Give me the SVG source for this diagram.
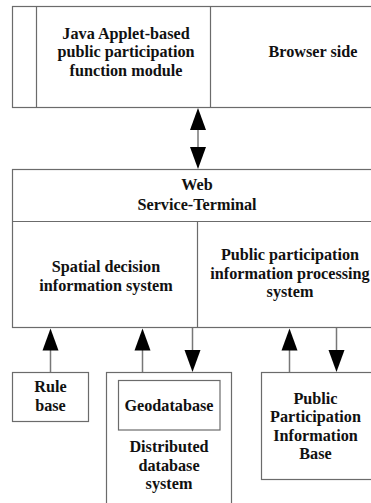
<svg xmlns="http://www.w3.org/2000/svg" width="371" height="503" viewBox="0 0 371 503">
  <defs>
    <style>
      .box { fill: #ffffff; stroke: #6b6b6b; stroke-width: 1.2; }
      .rule { stroke: #6b6b6b; stroke-width: 1.2; fill: none; }
      .link { stroke: #777777; stroke-width: 1.5; fill: none; }
      .head { fill: #000000; stroke: none; }
      text { font-family: "Liberation Serif", "Times New Roman", serif; font-weight: bold; font-size: 16.2px; fill: #111111; text-anchor: middle; }
    </style>
    <!-- arrowhead pointing up, tip at origin -->
    <polygon id="headUp" class="head" points="0,0 8,22 -8,22"/>
    <!-- arrowhead pointing down, tip at origin -->
    <polygon id="headDown" class="head" points="0,0 8,-22 -8,-22"/>
  </defs>
  <rect width="371" height="503" fill="#ffffff"/>

  <!-- Browser side -->
  <g id="browser">
    <rect class="box" x="12.5" y="6.5" width="380" height="101"/>
    <line class="rule" x1="36.5" y1="6.5" x2="36.5" y2="107.5"/>
    <line class="rule" x1="210.5" y1="6.5" x2="210.5" y2="107.5"/>
    <text x="126" y="38.5">Java Applet-based</text>
    <text x="126" y="57">public participation</text>
    <text x="126" y="75.5">function module</text>
    <text x="313" y="57">Browser side</text>
  </g>

  <!-- Web service terminal -->
  <g id="web-terminal">
    <rect class="box" x="12.5" y="169.5" width="380" height="158"/>
    <line class="rule" x1="12.5" y1="221.5" x2="392.5" y2="221.5"/>
    <line class="rule" x1="197.5" y1="221.5" x2="197.5" y2="327.5"/>
    <text x="197" y="190">Web</text>
    <text x="197" y="210">Service-Terminal</text>
  </g>
  <g id="spatial-decision">
    <text x="106" y="272">Spatial decision</text>
    <text x="106" y="290.5">information system</text>
  </g>
  <g id="public-processing">
    <text x="290" y="260">Public participation</text>
    <text x="290" y="278.5">information processing</text>
    <text x="290" y="297">system</text>
  </g>

  <!-- Data sources -->
  <g id="rule-base">
    <rect class="box" x="12.5" y="372.5" width="76" height="49"/>
    <text x="50.5" y="392">Rule</text>
    <text x="50.5" y="410.5">base</text>
  </g>
  <g id="distributed-db">
    <rect class="box" x="106.5" y="372.5" width="125" height="200"/>
    <text x="169" y="452">Distributed</text>
    <text x="169" y="470.5">database</text>
    <text x="169" y="489">system</text>
  </g>
  <g id="geodatabase">
    <rect class="box" x="118.5" y="380.5" width="101.5" height="49.5"/>
    <text x="169" y="411">Geodatabase</text>
  </g>
  <g id="ppib">
    <rect class="box" x="261.5" y="372.5" width="120" height="107"/>
    <text x="315.5" y="403.5">Public</text>
    <text x="315.5" y="422">Participation</text>
    <text x="315.5" y="440.5">Information</text>
    <text x="315.5" y="459">Base</text>
  </g>

  <!-- Connectors -->
  <g id="connectors">
    <line class="link" x1="198" y1="125" x2="198" y2="150"/>
    <use href="#headUp" x="198" y="108"/>
    <use href="#headDown" x="198" y="169"/>

    <line class="link" x1="50.5" y1="345" x2="50.5" y2="372"/>
    <use href="#headUp" x="50.5" y="328.5"/>

    <line class="link" x1="142.5" y1="345" x2="142.5" y2="372"/>
    <use href="#headUp" x="142.5" y="328.5"/>

    <line class="link" x1="192.5" y1="328" x2="192.5" y2="355"/>
    <use href="#headDown" x="192.5" y="372"/>

    <line class="link" x1="289.5" y1="345" x2="289.5" y2="372"/>
    <use href="#headUp" x="289.5" y="328.5"/>

    <line class="link" x1="336.5" y1="328" x2="336.5" y2="355"/>
    <use href="#headDown" x="336.5" y="372"/>
  </g>
</svg>
